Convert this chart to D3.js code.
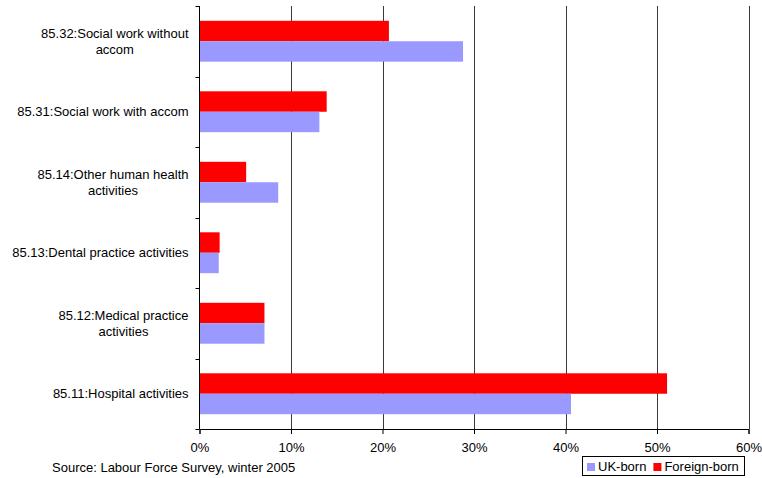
<!DOCTYPE html>
<html>
<head>
<meta charset="utf-8">
<script src="https://cdn.jsdelivr.net/npm/d3@7"></script>
<style>
  html, body { margin: 0; padding: 0; background: #fff; }
  svg { display: block; font-family: "Liberation Sans", Arial, sans-serif; }
</style>
</head>
<body>
<svg id="chart" width="762" height="478"></svg>
<script>
// Industry sectors (top to bottom), each label split into its display lines
const categories = [
  ["85.32:Social work without", "accom"],
  ["85.31:Social work with accom"],
  ["85.14:Other human health", "activities"],
  ["85.13:Dental practice activities"],
  ["85.12:Medical practice", "activities"],
  ["85.11:Hospital activities"]
];
const seriesNames = ["Foreign-born", "UK-born"];
const foreignBorn = [20.7, 13.9, 5.1, 2.2, 7.1, 51.1];
const ukBorn = [28.8, 13.1, 8.6, 2.1, 7.1, 40.6];
const xTicks = [0, 10, 20, 30, 40, 50, 60];
const colors = { "UK-born": "#9999FF", "Foreign-born": "#FF0000" };
const legendOrder = ["UK-born", "Foreign-born"];
const sourceNote = "Source: Labour Force Survey, winter 2005";

const FS = 13;
const svg = d3.select("#chart");
const margin = { top: 6, left: 199.5, right: 13.5, bottom: 49 };
const W = 762, H = 478;

const keys = categories.map(c => c.join(" "));
const rows = keys.map((k, i) => ({ key: k, lines: categories[i], "Foreign-born": foreignBorn[i], "UK-born": ukBorn[i] }));

const x = d3.scaleLinear().domain([0, 60]).range([margin.left, W - margin.right]);
const y0 = d3.scaleBand().domain(keys)
  .range([margin.top, H - margin.bottom])
  .paddingInner(0.42).paddingOuter(0.21);
const y1 = d3.scaleBand().domain(seriesNames).range([0, y0.bandwidth()]);

const plotTop = margin.top, plotBottom = H - margin.bottom;

// vertical gridlines
svg.append("g").selectAll("line").data(xTicks.slice(1)).join("line")
  .attr("x1", d => Math.round(x(d)) + 0.5).attr("x2", d => Math.round(x(d)) + 0.5)
  .attr("y1", plotTop).attr("y2", plotBottom)
  .attr("stroke", "#3a3a3a").attr("stroke-width", 1);

// bars
const groups = svg.append("g").selectAll("g").data(rows).join("g")
  .attr("transform", d => `translate(0,${y0(d.key)})`);
groups.selectAll("rect").data(d => seriesNames.map(s => ({ s, v: d[s] }))).join("rect")
  .attr("x", x(0))
  .attr("y", d => y1(d.s))
  .attr("width", d => x(d.v) - x(0))
  .attr("height", y1.bandwidth())
  .attr("fill", d => colors[d.s]);

// bottom axis
const xAxis = d3.axisBottom(x).tickValues(xTicks).tickFormat(d => d + "%")
  .tickSize(5).tickPadding(9);
const gx = svg.append("g").attr("transform", `translate(0,${plotBottom})`).call(xAxis);
gx.select(".domain").attr("stroke", "#000");
gx.selectAll(".tick line").attr("stroke", "#000");
gx.selectAll("text").attr("font-size", FS).attr("fill", "#000")
  .attr("font-family", "Liberation Sans, Arial, sans-serif");

// left axis line with ticks at category boundaries
const step = y0.step();
const boundaries = d3.range(keys.length + 1).map(i => plotTop + i * step);
const gy = svg.append("g");
gy.append("line").attr("x1", x(0)).attr("x2", x(0))
  .attr("y1", plotTop).attr("y2", plotBottom).attr("stroke", "#000");
gy.selectAll("line.tk").data(boundaries).join("line").attr("class", "tk")
  .attr("x1", x(0) - 4).attr("x2", x(0))
  .attr("y1", d => Math.round(d) + 0.5).attr("y2", d => Math.round(d) + 0.5)
  .attr("stroke", "#000");

// category labels: block right-aligned, wrapped lines centred on each other
const lineH = 15.5;
rows.forEach(r => {
  const cy = y0(r.key) + y0.bandwidth() / 2;
  const t = svg.append("text").attr("font-size", FS).attr("fill", "#000");
  const n = r.lines.length;
  r.lines.forEach((ln, j) => {
    t.append("tspan").attr("y", cy + (j - (n - 1) / 2) * lineH).attr("dy", "0.35em").text(ln);
  });
  const widths = t.selectAll("tspan").nodes().map(nd => nd.getComputedTextLength());
  const maxW = d3.max(widths);
  const right = x(0) - 11;
  const center = right - maxW / 2;
  t.selectAll("tspan").attr("x", center).attr("text-anchor", "middle");
});

// source note
svg.append("text").attr("x", 52).attr("y", 471.5).attr("font-size", FS).attr("fill", "#000").text(sourceNote);

// legend
const lg = svg.append("g");
lg.append("rect").attr("x", 582.5).attr("y", 456.5).attr("width", 162).attr("height", 19)
  .attr("fill", "#fff").attr("stroke", "#000");
let lx = 587;
legendOrder.forEach(name => {
  lg.append("rect").attr("x", lx).attr("y", 463).attr("width", 8).attr("height", 8).attr("fill", colors[name]);
  const t = lg.append("text").attr("x", lx + 11).attr("y", 471).attr("font-size", FS).attr("fill", "#000").text(name);
  lx = lx + 11 + t.node().getComputedTextLength() + 7;
});
</script>
</body>
</html>
